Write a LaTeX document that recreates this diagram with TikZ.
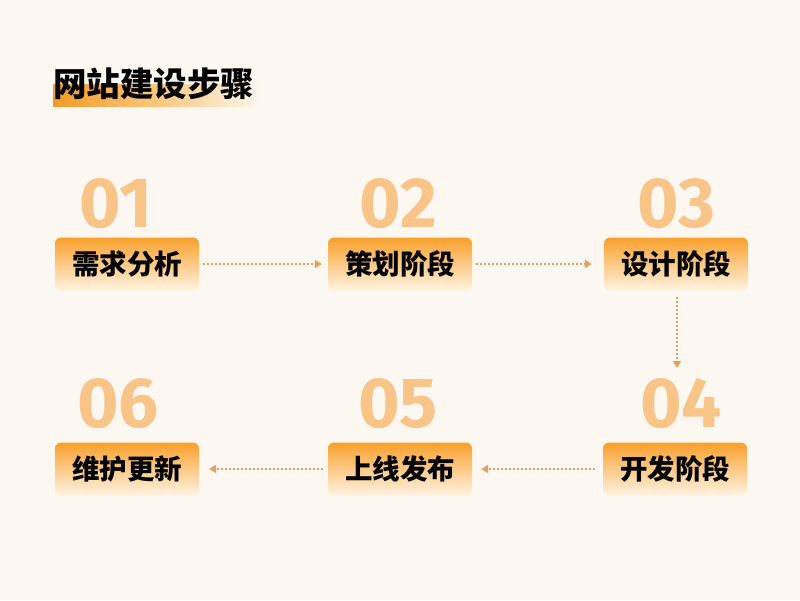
\documentclass[tikz,border=0pt]{standalone}
\usepackage{fontspec}
\newfontfamily\cjk{Noto Sans CJK SC}
\newfontfamily\numfont{Fira Sans}
\usetikzlibrary{arrows.meta}
\definecolor{bg}{HTML}{FCF8F1}
\definecolor{numc}{HTML}{F8C488}
\definecolor{arr}{HTML}{E39E60}
\definecolor{otop}{HTML}{F8A02B}
\definecolor{omid}{HTML}{FBC77C}
\definecolor{obot}{HTML}{FFF3E2}
\definecolor{hl}{HTML}{F39A28}
\tikzset{
  stepbox/.style={rounded corners=6pt, minimum width=144pt, minimum height=53pt,
    top color=otop, middle color=omid, bottom color=obot, inner sep=0pt,
    font=\cjk\bfseries\fontsize{27.5}{30}\selectfont, text=black},
  stepnum/.style={anchor=base, inner sep=0pt, text=numc,
    font=\numfont\bfseries\fontsize{71}{71}\selectfont},
  flow/.style={draw=arr, line width=1.6pt, dash pattern=on 1.6pt off 2.4pt,
    -{Triangle[length=7pt,width=8pt]}}
}
\begin{document}
\begin{tikzpicture}[x=1pt,y=-1pt]
\fill[bg] (0,0) rectangle (800,600);
\useasboundingbox (0,0) rectangle (800,600);
% title
\shade[left color=hl, right color=bg, middle color=omid] (53,84) rectangle (262,106);
\node[anchor=base west, inner sep=0pt, font=\cjk\bfseries\fontsize{33.5}{36}\selectfont] (title) at (53,96) {网站建设步骤};
% boxes
\node[stepbox] (b1) at (127,264) {需求分析};
\node[stepbox] (b2) at (400,264) {策划阶段};
\node[stepbox] (b3) at (676,264) {设计阶段};
\node[stepbox] (b4) at (675,469) {开发阶段};
\node[stepbox] (b5) at (400,469) {上线发布};
\node[stepbox] (b6) at (127,469) {维护更新};
% numbers
\node[stepnum] (n1) at (116,227) {01};
\node[stepnum] (n2) at (398,227) {02};
\node[stepnum] (n3) at (676,227) {03};
\node[stepnum] (n4) at (681,427) {04};
\node[stepnum] (n5) at (398,427) {05};
\node[stepnum] (n6) at (118,427) {06};
% connectors
\draw[flow, shorten <=4pt, shorten >=6pt] (b1.east) -- (b2.west);
\draw[flow, shorten <=4pt, shorten >=12pt] (b2.east) -- (b3.west);
\coordinate (v1) at (677,297);
\coordinate (v2) at (677,368);
\draw[flow] (v1) -- (v2);
\draw[flow, shorten <=8pt, shorten >=9pt] (b4.west) -- (b5.east);
\draw[flow, shorten <=5pt, shorten >=10pt] (b5.west) -- (b6.east);
\end{tikzpicture}
\end{document}
